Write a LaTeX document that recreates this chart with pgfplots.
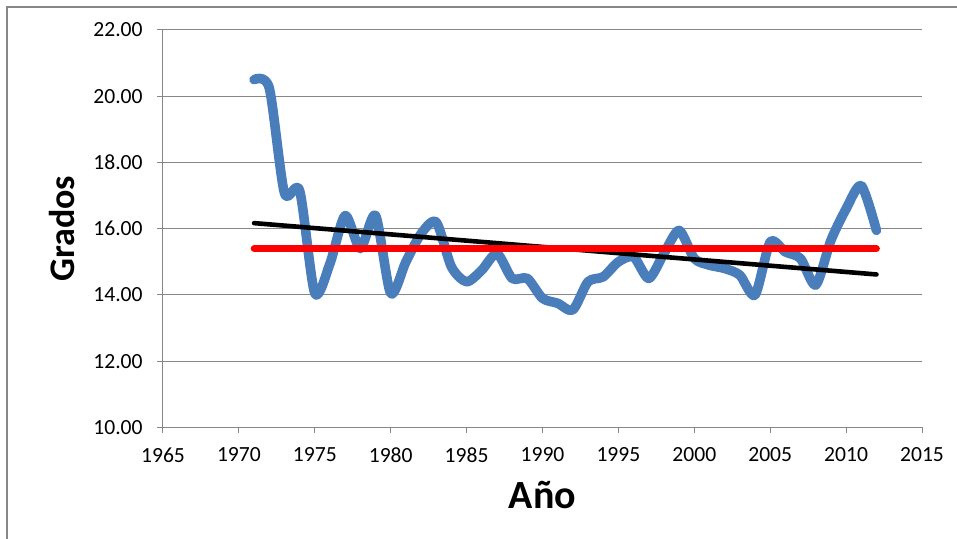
\documentclass[border=0pt]{standalone}
\usepackage{fontspec}
\setmainfont{Carlito}
\usepackage{pgfplots}
\pgfplotsset{compat=1.18}
\definecolor{serie}{HTML}{4A7EBB}
\definecolor{rejilla}{HTML}{878787}

\pgfplotstableread{
anio grados
1971 20.50
1972 20.25
1973 17.08
1974 17.15
1975 14.05
1976 14.95
1977 16.40
1978 15.40
1979 16.40
1980 14.05
1981 15.00
1982 15.85
1983 16.20
1984 14.85
1985 14.40
1986 14.75
1987 15.25
1988 14.50
1989 14.50
1990 13.90
1991 13.75
1992 13.55
1993 14.40
1994 14.55
1995 15.00
1996 15.15
1997 14.50
1998 15.25
1999 15.95
2000 15.10
2001 14.90
2002 14.80
2003 14.60
2004 14.00
2005 15.60
2006 15.30
2007 15.10
2008 14.30
2009 15.65
2010 16.60
2011 17.30
2012 15.95
}\temperaturas

\begin{document}
\begin{tikzpicture}
% 1 px of the reference = 0.5pt
\path[use as bounding box] (-81.5pt,-55.75pt) rectangle (397pt,213.75pt);
\draw[rejilla, line width=0.8pt] (-78pt,-60pt) -- (-78pt,210.25pt) -- (400pt,210.25pt);
\begin{axis}[
  at={(0,0)}, anchor=south west,
  scale only axis, width=379.5pt, height=198.75pt,
  xmin=1965, xmax=2015, ymin=10, ymax=22,
  xtick={1965,1970,...,2015}, ytick={10,12,...,22},
  axis x line*=bottom, axis y line*=left,
  axis line style={rejilla, line width=0.5pt},
  tick style={rejilla, line width=0.5pt},
  tick align=outside, major tick length=3pt,
  ymajorgrids, grid style={rejilla, line width=0.5pt},
  /pgf/number format/assume math mode=true,
  tick label style={font=\fontsize{10.8}{12}\selectfont, black},
  xticklabel style={/pgf/number format/1000 sep={}, anchor=north, inner sep=0pt, yshift=-7pt},
  yticklabel style={/pgf/number format/fixed, /pgf/number format/fixed zerofill,
    /pgf/number format/precision=2, anchor=east, inner sep=0pt, xshift=-7pt},
  xlabel={\bfseries Año},
  xlabel style={font=\fontsize{20}{24}\selectfont, at={(axis description cs:0.5,0)}, anchor=base, yshift=-40.4pt},
  ylabel={\bfseries Grados},
  ylabel style={font=\fontsize{18}{22}\selectfont, at={(axis description cs:-0.1333,0.5)}, anchor=center},
  clip=false,
]
\addplot[serie, line width=4.8pt, smooth, tension=0.45, line cap=round, line join=round] table[x=anio, y=grados] {\temperaturas};
\addplot[black, line width=2.3pt, line cap=round] coordinates {(1971,16.17) (2012,14.62)};
\addplot[red, line width=3.4pt, line cap=round] coordinates {(1971,15.40) (2012,15.40)};
\end{axis}
\end{tikzpicture}
\end{document}
